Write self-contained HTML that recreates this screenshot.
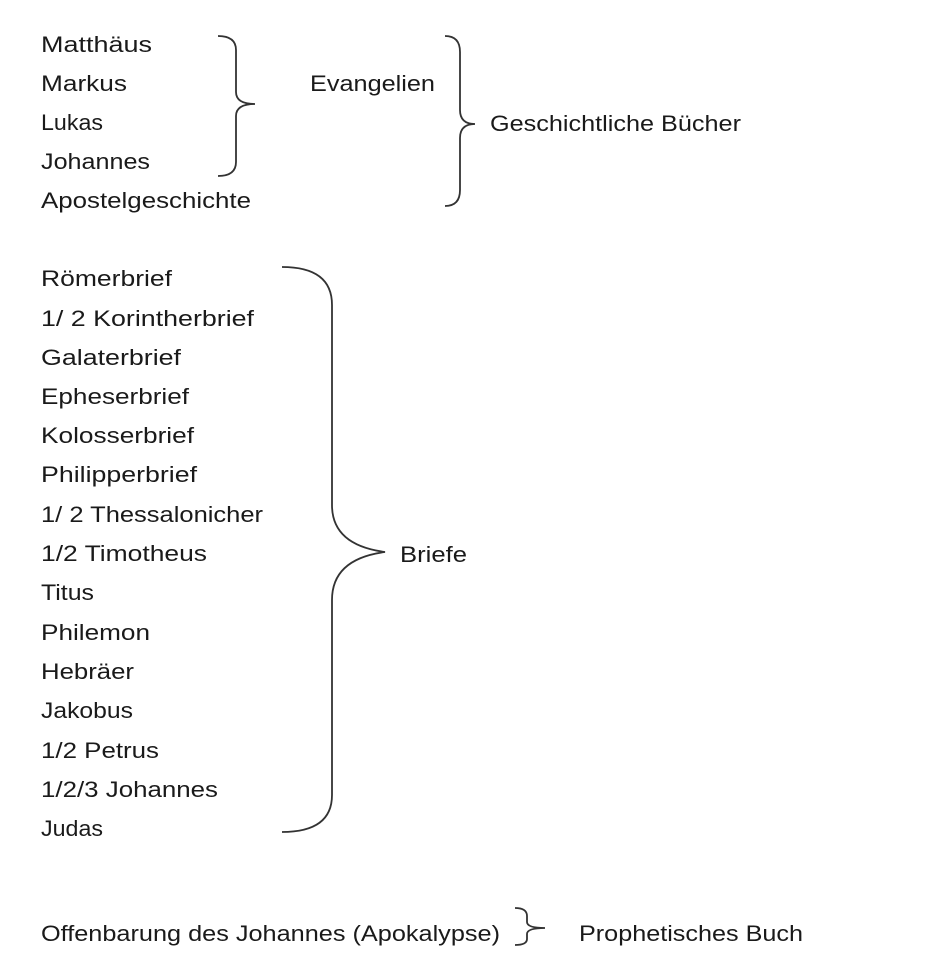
<!DOCTYPE html>
<html><head><meta charset="utf-8"><style>
html,body{margin:0;padding:0;background:#fff}
svg{display:block}
text{font-family:"Liberation Sans",sans-serif;font-size:22px;fill:#1a1a1a}
path{fill:none;stroke:#333;stroke-width:1.8}
</style></head><body>
<svg width="936" height="980" viewBox="0 0 936 980">
<g>
<text x="41" y="52" textLength="111" lengthAdjust="spacingAndGlyphs">Matthäus</text>
<text x="41" y="91" textLength="86" lengthAdjust="spacingAndGlyphs">Markus</text>
<text x="41" y="130" textLength="62" lengthAdjust="spacingAndGlyphs">Lukas</text>
<text x="41" y="169" textLength="109" lengthAdjust="spacingAndGlyphs">Johannes</text>
<text x="41" y="208" textLength="210" lengthAdjust="spacingAndGlyphs">Apostelgeschichte</text>
<text x="310" y="91" textLength="125" lengthAdjust="spacingAndGlyphs">Evangelien</text>
<text x="490" y="131" textLength="251" lengthAdjust="spacingAndGlyphs">Geschichtliche Bücher</text>

<text x="41" y="286" textLength="131" lengthAdjust="spacingAndGlyphs">Römerbrief</text>
<text x="41" y="326" textLength="213" lengthAdjust="spacingAndGlyphs">1/ 2 Korintherbrief</text>
<text x="41" y="365" textLength="140" lengthAdjust="spacingAndGlyphs">Galaterbrief</text>
<text x="41" y="404" textLength="148" lengthAdjust="spacingAndGlyphs">Epheserbrief</text>
<text x="41" y="443" textLength="153" lengthAdjust="spacingAndGlyphs">Kolosserbrief</text>
<text x="41" y="482" textLength="156" lengthAdjust="spacingAndGlyphs">Philipperbrief</text>
<text x="41" y="522" textLength="222" lengthAdjust="spacingAndGlyphs">1/ 2 Thessalonicher</text>
<text x="41" y="561" textLength="166" lengthAdjust="spacingAndGlyphs">1/2 Timotheus</text>
<text x="41" y="600" textLength="53" lengthAdjust="spacingAndGlyphs">Titus</text>
<text x="41" y="640" textLength="109" lengthAdjust="spacingAndGlyphs">Philemon</text>
<text x="41" y="679" textLength="93" lengthAdjust="spacingAndGlyphs">Hebräer</text>
<text x="41" y="718" textLength="92" lengthAdjust="spacingAndGlyphs">Jakobus</text>
<text x="41" y="758" textLength="118" lengthAdjust="spacingAndGlyphs">1/2 Petrus</text>
<text x="41" y="797" textLength="177" lengthAdjust="spacingAndGlyphs">1/2/3 Johannes</text>
<text x="41" y="836" textLength="62" lengthAdjust="spacingAndGlyphs">Judas</text>
<text x="400" y="562" textLength="67" lengthAdjust="spacingAndGlyphs">Briefe</text>

<text x="41" y="941" textLength="459" lengthAdjust="spacingAndGlyphs">Offenbarung des Johannes (Apokalypse)</text>
<text x="579" y="941" textLength="224" lengthAdjust="spacingAndGlyphs">Prophetisches Buch</text>
</g>
<path d="M218,36 Q236,36 236,50 L236,92 Q236,104 255,104 Q236,104 236,116 L236,162 Q236,176 218,176"/>
<path d="M445,36 Q460,36 460,52 L460,110 Q460,124 475,124 Q460,124 460,138 L460,190 Q460,206 445,206"/>
<path d="M282,267 Q332,267 332,305 L332,505 Q332,545 385,552 Q332,559 332,600 L332,795 Q332,832 282,832"/>
<path d="M515,908 Q527,908 527,916 L527,922 Q527,928 545,928 Q527,928 527,934 L527,939 Q527,945 515,945"/>
</svg>
</body></html>
